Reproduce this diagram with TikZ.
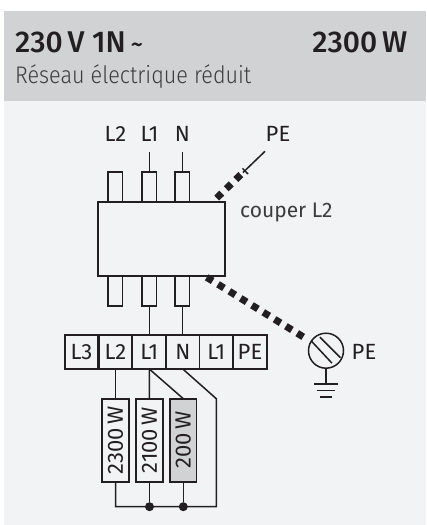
\documentclass[tikz,border=0pt]{standalone}
\usepackage{fontspec}
\usetikzlibrary{calc}
\setmainfont{Fira Sans}
\newfontfamily\headf{Fira Sans Medium}
\newfontfamily\subf[FakeStretch=0.9]{Fira Sans Light}
\definecolor{hdr}{RGB}{208,210,211}
\definecolor{pane}{RGB}{241,243,245}
\definecolor{ink}{RGB}{35,31,32}
\definecolor{sub}{RGB}{60,60,62}
\tikzset{
  wire/.style={draw=ink,line width=1.5pt},
  part/.style={draw=ink,line width=1.7pt,line join=miter,outer sep=0pt},
  thick dash/.style={draw=ink,line width=7pt,dash pattern=on 7pt off 6.3pt},
  lab/.style={text=ink,font=\fontsize{22}{24}\selectfont,inner sep=0pt},
  cell/.style={part,minimum height=34pt,minimum width=33.6pt,inner sep=0pt,text=ink,font=\fontsize{22}{24}\selectfont},
  stub/.style={part,minimum width=14.5pt,minimum height=30pt,inner sep=0pt,anchor=south},
  load/.style={part,minimum width=26.5pt,minimum height=83pt,inner sep=0pt,text=ink,font=\fontsize{22}{24}\selectfont},
  junction/.style={circle,fill=ink,minimum size=9pt,inner sep=0pt}
}
\begin{document}
\begin{tikzpicture}[x=1pt,y=-1pt]
\useasboundingbox (0,0) rectangle (426,525);
\fill[pane] (4,101) rectangle (426,525);
\fill[hdr] (4,11) rectangle (426,101);
\node[anchor=base west,inner sep=0pt,text=ink,font=\fontsize{30}{32}\selectfont\headf] (volt) at (15,52.5) {230\,V 1N\,{\fontsize{24}{26}\selectfont\char"7E}};
\node[anchor=base east,inner sep=0pt,text=ink,font=\fontsize{30}{32}\selectfont\headf] (pow) at (407.5,52.5) {2300\,W};
\node[anchor=base west,inner sep=0pt,text=sub,font=\fontsize{24}{26}\selectfont\subf] (net) at (15,83) {Réseau électrique réduit};
% switch
\node[part,minimum width=127pt,minimum height=74pt,inner sep=0pt] (box) at (161.7,239) {};
\node[stub] (t2) at (115.3,202) {};
\node[stub] (t1) at (149.3,202) {};
\node[stub] (tn) at (182.3,202) {};
\node[stub,anchor=north] (b2) at (115.3,276) {};
\node[stub,anchor=north] (b1) at (149.3,276) {};
\node[stub,anchor=north] (bn) at (182.3,276) {};
\node[lab] (l2) at (115.5,134) {L2};
\node[lab] (l1) at (149.5,134) {L1};
\node[lab] (ln) at (182.5,134) {N};
\node[lab] (pe1) at (278,134) {PE};
\node[lab,text=sub,font=\fontsize{21}{23}\selectfont,anchor=base west] (cut) at (240,217) {couper L2};
\coordinate (w1) at (149.3,152.3);
\coordinate (wn) at (182.3,152.3);
\draw[wire] (w1) -- (t1.north);
\draw[wire] (wn) -- (tn.north);
% terminals
\node[cell] (c1) at (81.5,352) {L3};
\node[cell] (c2) at (115.5,352) {L2};
\node[cell] (c3) at (149.3,352) {L1};
\node[cell] (c4) at (182.8,352) {N};
\node[cell] (c5) at (216.3,352) {L1};
\node[cell] (c6) at (250,352) {PE};
\draw[wire] (b1.south) -- (b1.south |- c3.north);
\draw[wire] (bn.south) -- (bn.south |- c4.north);
% loads
\node[load] (r1) at (115.5,440.2) {\rotatebox{90}{2300\,W}};
\node[load] (r2) at (149.5,440.2) {\rotatebox{90}{2100\,W}};
\node[load,fill=hdr] (r3) at (183.3,440.2) {\rotatebox{90}{200\,W}};
\draw[wire] (c2.south) -- (r1.north);
\draw[wire] (c3.south) -- (r2.north);
\draw[wire] (c3.south) -- (r3.north);
\coordinate (bus0) at (115.5,506.7);
\node[junction] (j1) at (149.5,506.7) {};
\node[junction] (j2) at (183.3,506.7) {};
\coordinate (busr) at (216.3,506.7);
\coordinate (knee) at (216.3,398.7);
\draw[wire,line join=miter] (r1.south) -- (bus0) -- (busr) -- (knee) -- (c4.south);
\draw[wire] (r2.south) -- (j1);
\draw[wire] (r3.south) -- (j2);
% PE upper
\coordinate (pa) at (216.7,198);
\coordinate (pb) at (243,172.5);
\coordinate (pc) at (265,151.3);
\coordinate (pt1) at (242.5,168.3);
\coordinate (pt2) at (248,174);
\draw[thick dash] (pa) -- (pb);
\draw[wire] (pb) -- (pc);
\draw[wire] (pt1) -- (pt2);
% PE lower
\node[draw=ink,line width=1.5pt,circle,minimum size=35pt,inner sep=0pt] (screw) at (326,350.7) {};
\coordinate (pd) at (206.7,277.3);
\coordinate (pe) at (305,338);
\draw[thick dash] (pd) -- (pe);
\draw[wire] ($(screw.center)+(-14.5,-9.5)$) -- ($(screw.center)+(6,12.5)$);
\draw[wire] ($(screw.center)+(-6,-13.5)$) -- ($(screw.center)+(14.5,7)$);
\node[lab] (pe2) at (364,352) {PE};
\coordinate (g0) at (326,384);
\draw[wire] (screw.south) -- (g0);
\draw[wire] ($(g0)+(-12,0)$) -- ($(g0)+(12,0)$);
\draw[wire] ($(g0)+(-9,6.5)$) -- ($(g0)+(9,6.5)$);
\draw[wire] ($(g0)+(-6,13)$) -- ($(g0)+(6,13)$);
\end{tikzpicture}
\end{document}
